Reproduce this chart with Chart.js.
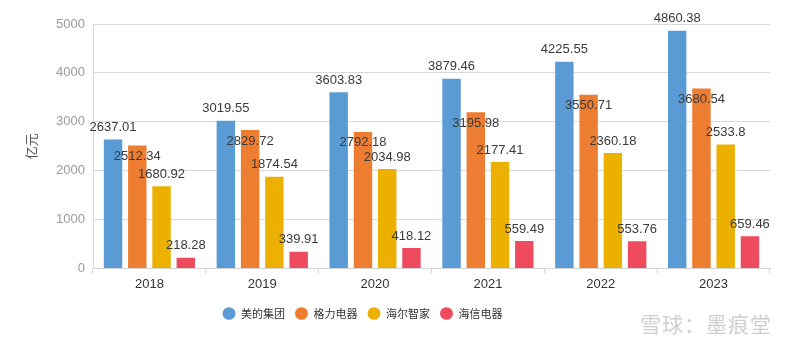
<!DOCTYPE html>
<html>
<head>
<meta charset="utf-8">
<script src="https://cdn.jsdelivr.net/npm/chart.js@4/dist/chart.umd.min.js"></script>
<style>
  html, body { margin: 0; padding: 0; background: #fff; }
  #wrap { position: relative; width: 800px; height: 354px; }
  #mark {
    position: absolute; left: 640px; top: 308px;
    font: 21px "Noto Sans CJK SC", sans-serif; color: #cfcfcf; letter-spacing: 1px;
  }
</style>
</head>
<body>
<div id="wrap">
  <canvas id="chart" width="800" height="354"></canvas>
  <div id="mark">雪球：墨痕堂</div>
</div>
<script>
const years = ['2018', '2019', '2020', '2021', '2022', '2023']
const companies = ['美的集团', '格力电器', '海尔智家', '海信电器']
const midea = [2637.01, 3019.55, 3603.83, 3879.46, 4225.55, 4860.38]
const gree = [2512.34, 2829.72, 2792.18, 3195.98, 3550.71, 3680.54]
const haier = [1680.92, 1874.54, 2034.98, 2177.41, 2360.18, 2533.8]
const hisense = [218.28, 339.91, 418.12, 559.49, 553.76, 659.46]
const yTicks = [0, 1000, 2000, 3000, 4000, 5000]

const colors = ['#5b9bd5', '#ed7d31', '#ebb000', '#ee4b5f']
// label offset from bar top (orange labels sit inside the bar)
const labelShift = [-12, 11, -12, -12]

const seriesValues = [midea, gree, haier, hisense]

// draws the value of every bar near its top
const valueLabels = {
  id: 'valueLabels',
  afterDatasetsDraw(chart) {
    const ctx = chart.ctx
    ctx.save()
    ctx.font = '13px "Liberation Sans", Arial, sans-serif'
    ctx.fillStyle = '#3a3a3a'
    ctx.textAlign = 'center'
    ctx.textBaseline = 'middle'
    chart.data.datasets.forEach((ds, i) => {
      const meta = chart.getDatasetMeta(i)
      meta.data.forEach((bar, j) => {
        ctx.fillText(String(ds.data[j]), bar.x, bar.y + labelShift[i])
      })
    })
    ctx.restore()
  }
}

// legend sits a bit left of centre and lower in the original
const legendShift = {
  id: 'legendShift',
  afterLayout(chart) {
    const lg = chart.legend
    lg.left -= 34
    lg.right -= 34
    lg.top += 3
    lg.bottom += 3
  }
}

new Chart(document.getElementById('chart'), {
  type: 'bar',
  data: {
    labels: years,
    datasets: seriesValues.map((values, i) => ({
      label: companies[i],
      data: values,
      backgroundColor: colors[i],
      borderWidth: 0,
      categoryPercentage: 0.86,
      barPercentage: 0.76
    }))
  },
  options: {
    responsive: false,
    animation: false,
    layout: { padding: { left: 23, right: 30, top: 24, bottom: 28 } },
    scales: {
      x: {
        grid: { display: true, drawOnChartArea: false, tickLength: 5, color: '#d4d4d4' },
        border: { color: '#d4d4d4' },
        ticks: { color: '#333', font: { family: '"Liberation Sans", Arial', size: 13 }, padding: 3 }
      },
      y: {
        min: 0,
        max: 5000,
        afterBuildTicks: scale => { scale.ticks = yTicks.map(v => ({ value: v })) },
        afterFit: scale => { scale.width = 70 },
        grid: { color: '#d9d9d9', drawTicks: false },
        border: { color: '#d9d9d9' },
        ticks: {
          color: '#9a9a9a',
          font: { family: '"Liberation Sans", Arial', size: 13 },
          padding: 8,
          callback: v => String(v)
        },
        title: {
          display: true,
          text: '亿元',
          color: '#555',
          font: { family: '"Noto Sans CJK SC"', size: 13 },
          padding: { top: 0, bottom: 0 }
        }
      }
    },
    plugins: {
      legend: {
        position: 'bottom',
        labels: {
          usePointStyle: true,
          pointStyle: 'circle',
          pointStyleWidth: 13,
          boxHeight: 9,
          padding: 10,
          color: '#333',
          font: { family: '"Noto Sans CJK SC"', size: 11 }
        }
      },
      tooltip: { enabled: false }
    }
  },
  plugins: [valueLabels, legendShift]
})
</script>
</body>
</html>
